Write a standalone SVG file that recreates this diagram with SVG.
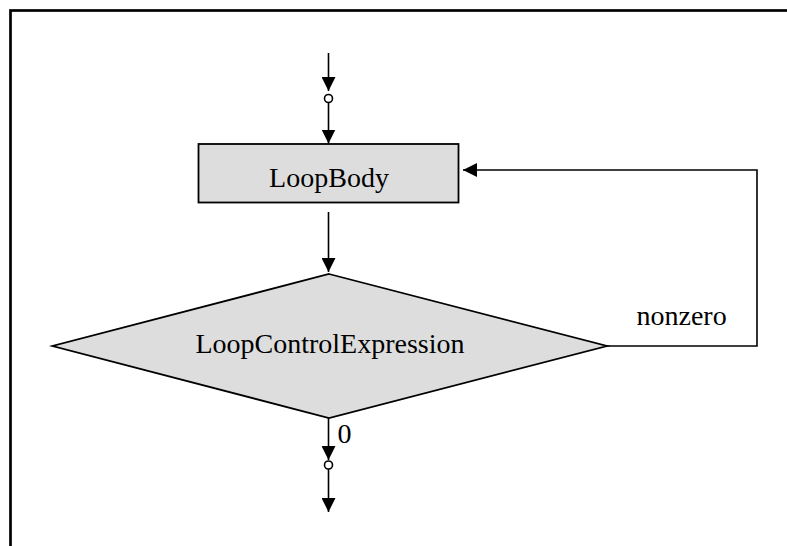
<svg xmlns="http://www.w3.org/2000/svg" width="787" height="546" viewBox="0 0 787 546">
<defs>
<style>
.shape{fill:#dddddd;stroke:#000;stroke-width:1.8}
.edge{fill:none;stroke:#000;stroke-width:1.6}
.lbl{font-family:"Liberation Serif","Times New Roman",serif;font-size:28px;fill:#000}
.dot{fill:#fff;stroke:#000;stroke-width:1.6}
</style>
<marker id="ah" viewBox="0 0 14 14" refX="14" refY="7" markerWidth="14" markerHeight="14" markerUnits="userSpaceOnUse" orient="auto">
<path d="M0,0 L14,7 L0,14 Z" fill="#000"/>
</marker>
</defs>
<rect x="10.5" y="10.5" width="900" height="700" fill="#fff" stroke="#000" stroke-width="2.7"/>
<g id="connectors">
<line class="edge" x1="328.5" y1="53" x2="328.5" y2="91" marker-end="url(#ah)"/>
<circle class="dot" cx="328.5" cy="98.5" r="4"/>
<line class="edge" x1="328.5" y1="102.5" x2="328.5" y2="143.5" marker-end="url(#ah)"/>
<line class="edge" x1="328.5" y1="212" x2="328.5" y2="272" marker-end="url(#ah)"/>
<polyline class="edge" points="607,346 757,346 757,170 463,170" marker-end="url(#ah)"/>
<line class="edge" x1="328.5" y1="418" x2="328.5" y2="460" marker-end="url(#ah)"/>
<circle class="dot" cx="328.5" cy="465" r="4"/>
<line class="edge" x1="328.5" y1="469" x2="328.5" y2="512" marker-end="url(#ah)"/>
<text class="lbl" x="636.5" y="325">nonzero</text>
<text class="lbl" x="337.5" y="443">0</text>
</g>
<g id="loopbody">
<rect class="shape" x="198.5" y="144" width="260" height="58.5"/>
<text class="lbl" x="329" y="186.5" text-anchor="middle">LoopBody</text>
</g>
<g id="loopcontrol">
<polygon class="shape" points="329,274 607,346 329,418 52.5,346"/>
<text class="lbl" x="330" y="352.5" text-anchor="middle">LoopControlExpression</text>
</g>
</svg>
